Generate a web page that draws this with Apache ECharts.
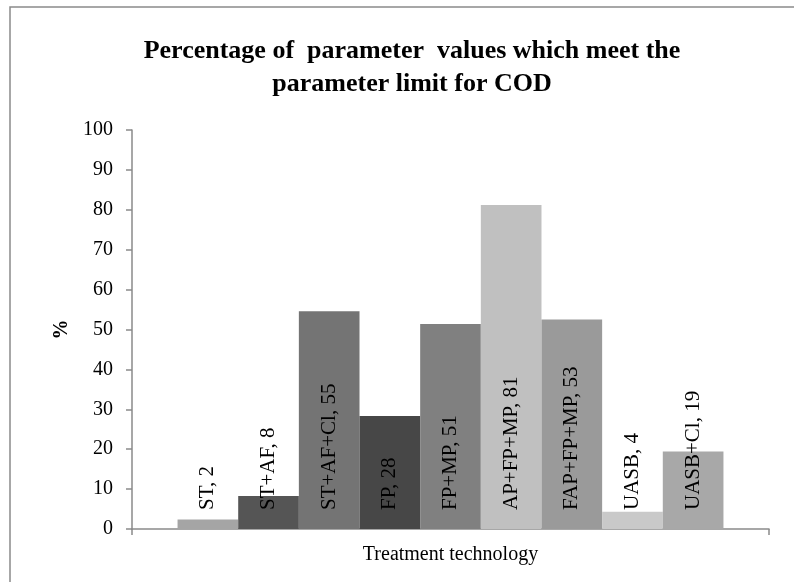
<!DOCTYPE html>
<html>
<head>
<meta charset="utf-8">
<script src="https://cdn.jsdelivr.net/npm/echarts@6/dist/echarts.min.js"></script>
<style>
  html, body { margin: 0; padding: 0; background: #fff; }
  #chart-container { width: 794px; height: 582px; }
</style>
</head>
<body>
<div id="chart-container"></div>
<script>
var dom = document.getElementById('chart-container');
var myChart = echarts.init(dom, null, { renderer: 'canvas' });

var serif = '"Liberation Serif", "Times New Roman", serif';

// treatment technologies, one bar each
var technologies = ['ST', 'ST+AF', 'ST+AF+Cl', 'FP', 'FP+MP', 'AP+FP+MP', 'FAP+FP+MP', 'UASB', 'UASB+Cl'];
// % of values meeting the COD limit
var percentages = [2.4, 8.3, 54.6, 28.3, 51.4, 81.2, 52.5, 4.3, 19.4];
var barColors = ['#a5a5a5', '#555555', '#747474', '#474747', '#808080', '#c0c0c0', '#9a9a9a', '#c9c9c9', '#a8a8a8'];

var series = technologies.map(function (name, i) {
    return {
        name: name,
        type: 'bar',
        data: [percentages[i]],
        barGap: '0%',
        barCategoryGap: '14.3%',
        itemStyle: { color: barColors[i] },
        label: {
            show: true,
            position: 'insideBottom',
            distance: 19,
            rotate: 90,
            align: 'left',
            verticalAlign: 'middle',
            color: '#000',
            fontFamily: serif,
            fontSize: 21,
            formatter: function (p) {
                return p.seriesName + ', ' + Math.round(p.value);
            }
        }
    };
});

var option = {
    animation: false,
    title: {
        text: 'Percentage of  parameter  values which meet the\nparameter limit for COD',
        left: 407,
        top: 30,
        textAlign: 'center',
        textStyle: {
            fontFamily: serif,
            fontWeight: 'bold',
            fontSize: 26,
            lineHeight: 33,
            color: '#000'
        }
    },
    graphic: [{
        type: 'rect',
        shape: { x: 10, y: 7, width: 800, height: 600 },
        style: { fill: 'none', stroke: '#8a8a8a', lineWidth: 1.5 },
        silent: true
    }],
    grid: { left: 132, right: 25, top: 130, bottom: 53 },
    xAxis: {
        type: 'category',
        data: [''],
        name: 'Treatment technology',
        nameLocation: 'middle',
        nameGap: 16,
        nameTextStyle: { fontFamily: serif, fontSize: 20, color: '#000' },
        axisLine: { lineStyle: { color: '#8a8a8a', width: 1.5 } },
        axisTick: { show: true, length: 6, lineStyle: { color: '#8a8a8a', width: 1.5 } },
        axisLabel: { show: false }
    },
    yAxis: {
        type: 'value',
        min: 0,
        max: 100,
        interval: 10,
        name: '%',
        nameLocation: 'middle',
        nameGap: 60,
        nameTextStyle: { fontFamily: serif, fontSize: 20, fontWeight: 'bold', color: '#000' },
        axisLine: { show: true, lineStyle: { color: '#8a8a8a', width: 1.5 } },
        axisTick: { show: true, length: 6, lineStyle: { color: '#8a8a8a', width: 1.5 } },
        axisLabel: { fontFamily: serif, fontSize: 20, color: '#000', margin: 19 },
        splitLine: { show: false }
    },
    series: series
};

myChart.setOption(option);
window.addEventListener('resize', myChart.resize);
</script>
</body>
</html>
